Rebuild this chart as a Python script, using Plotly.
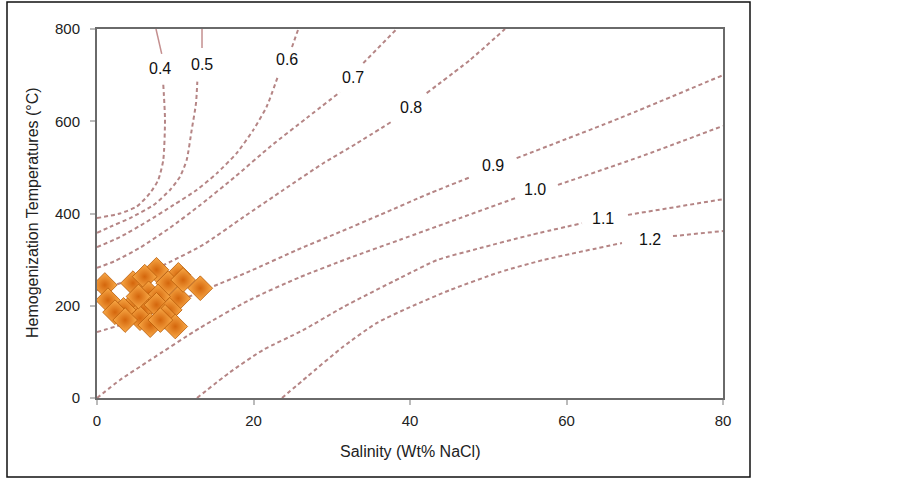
import plotly.graph_objects as go

# ---------------- data ----------------
x_ticks = [0, 20, 40, 60, 80]
y_ticks = [0, 200, 400, 600, 800]

# sample points (Salinity wt% NaCl, Th °C)
sal = [7.6, 10.4, 4.6, 6.1, 9.1, 6.6, 13.2, 10.4, 7.8, 4.2, 5.9, 7.6, 3.4, 9.3,
       8.7, 10.0, 5.5, 11.0, 5.3, 1.0, 1.4, 2.3, 3.6, 6.8, 8.1]
temp = [278, 267, 249, 263, 249, 227, 238, 216, 220, 195, 191, 202, 191, 191,
        176, 155, 173, 256, 220, 245, 212, 186, 169, 158, 169]

# density isolines (g/cm3); None = gap for the label
iso_labels = ["0.4", "0.5", "0.6", "0.7", "0.8", "0.9", "1.0", "1.1", "1.2"]

iso04_x = [0, 2.94, 5.07, 6.77, 7.83, 8.47, 8.69, 8.47]
iso04_y = [390, 400, 415, 444, 473, 516, 603, 679]
iso04_top_x = [8.27, 7.54]
iso04_top_y = [746, 800]

iso05_x = [0, 1.66, 4.22, 7.19, 9.33, 10.61, 11.46, 12.10, 12.65, 12.82]
iso05_y = [358, 371, 390, 418, 451, 480, 516, 581, 639, 686]
iso05_top_x = [13.42, 13.42]
iso05_top_y = [759, 800]

iso06_x = [0, 2.94, 6.35, 9.75, 12.74, 15.30, 17.85, 19.97, 21.69, 23.17, None, 24.92, 25.73]
iso06_y = [327, 349, 382, 418, 451, 487, 531, 581, 632, 700, None, 761, 800]

iso07_x = [0, 2.30, 5.50, 9.33, 13.16, 17.6, 22.2, 26.8, 31.05, None, 34.03, 38.30]
iso07_y = [282, 297, 326, 369, 418, 479, 546, 607, 663, None, 726, 800]

iso08_x = [0, 2.30, 5.50, 9.33, 13.55, 18.70, 23.81, 28.92, 33.19, 37.83, None, 42.13, 47.67, 52.14]
iso08_y = [234, 245, 265, 295, 332, 392, 451, 509, 552, 601, None, 661, 733, 800]

iso09_x = [0, 4.22, 9.33, 14.44, 19.55, 25.56, 31.05, 36.17, 42.56, 47.88, None, 53.63, 66.84, 80]
iso09_y = [143, 165, 202, 239, 275, 321, 360, 397, 444, 480, None, 520, 607, 700]

iso10_x = [0, 2.94, 6.77, 13.16, 19.55, 25.94, 32.33, 38.72, 46.39, 53.42, None, 58.91, 69.39, 80]
iso10_y = [0, 39, 82, 152, 213, 262, 304, 343, 390, 433, None, 462, 523, 590]

iso11_x = [12.78, 17.00, 21.21, 26.33, 31.44, 38.72, 43.45, 48.95, 55.34, 61.98, None, 67.86, 80]
iso11_y = [0, 56, 104, 147, 197, 260, 299, 325, 353, 379, None, 397, 431]

iso12_x = [23.64, 26.84, 31.44, 35.78, 40.00, 45.11, 51.50, 57.00, 67.09, None, 73.61, 80]
iso12_y = [0, 46, 111, 163, 197, 234, 273, 299, 336, None, 351, 362]

label_x = [8.05, 13.42, 24.28, 32.72, 40.13, 50.61, 55.97, 64.66, 70.67]
label_y = [715, 722, 733, 694, 629, 503, 451, 390, 343]

# ---------------- figure ----------------
FONT = "Liberation Sans, Arial, sans-serif"
LINE_COL = "#b58585"
DASH = "4px,3px"
fig = go.Figure()

dashed = [(iso04_x, iso04_y), (iso05_x, iso05_y), (iso06_x, iso06_y), (iso07_x, iso07_y),
          (iso08_x, iso08_y), (iso09_x, iso09_y), (iso10_x, iso10_y), (iso11_x, iso11_y),
          (iso12_x, iso12_y)]
for xs, ys in dashed:
    fig.add_trace(go.Scatter(x=xs, y=ys, mode="lines", showlegend=False, hoverinfo="skip",
                             line=dict(color=LINE_COL, width=2, dash=DASH, shape="spline", smoothing=0.6),
                             connectgaps=False))
for xs, ys in [(iso04_top_x, iso04_top_y), (iso05_top_x, iso05_top_y)]:
    fig.add_trace(go.Scatter(x=xs, y=ys, mode="lines", showlegend=False, hoverinfo="skip",
                             line=dict(color="#c48f8f", width=1.5)))

fig.add_trace(go.Scatter(
    x=sal, y=temp, mode="markers", showlegend=False,
    marker=dict(symbol="diamond", size=19, color="#f9aa48",
                gradient=dict(type="radial", color="#d4660c"),
                line=dict(color="#b85a08", width=0.8))))

for t, lx, ly in zip(iso_labels, label_x, label_y):
    fig.add_annotation(x=lx, y=ly, text=t, showarrow=False, xanchor="center", yanchor="middle",
                       font=dict(family=FONT, size=16, color="#111"))

L, R, T, B = 97, 180, 29, 81
W, H = 903, 479
pw, ph = W - L - R, H - T - B

def px2paper_x(px):
    return (px - L) / pw

def px2paper_y(py):
    return (H - B - py) / ph

# outer frame
fig.add_shape(type="rect", xref="paper", yref="paper",
              x0=px2paper_x(7), x1=px2paper_x(750), y0=px2paper_y(477), y1=px2paper_y(2),
              line=dict(color="#111", width=1.5), layer="below")

fig.add_annotation(xref="paper", yref="paper", x=px2paper_x(410), y=px2paper_y(452),
                   xanchor="center", yanchor="middle",
                   text="Salinity (Wt% NaCl)", showarrow=False,
                   font=dict(family=FONT, size=16, color="#222"))
fig.add_annotation(xref="paper", yref="paper", x=px2paper_x(32), y=px2paper_y(213),
                   xanchor="center", yanchor="middle",
                   text="Hemogenization Temperatures (°C)", showarrow=False, textangle=-90,
                   font=dict(family=FONT, size=16, color="#222"))

axis_common = dict(showgrid=False, zeroline=False, showline=True, linecolor="#6a6a6a",
                   linewidth=2, mirror=True, ticks="outside", ticklen=5, tickcolor="#bbbbbb",
                   tickwidth=1.5,
                   tickfont=dict(family=FONT, size=15, color="#222"))
fig.update_xaxes(range=[0, 80], tickvals=x_ticks, ticklabelstandoff=3, **axis_common)
fig.update_yaxes(range=[0, 800], tickvals=y_ticks, ticklabelstandoff=7, **axis_common)

fig.update_layout(width=W, height=H, margin=dict(l=L, r=R, t=T, b=B, autoexpand=False),
                  paper_bgcolor="white", plot_bgcolor="white")

fig.write_html("out.html", config={"displayModeBar": False},
               post_script="document.body.style.margin='0';")
